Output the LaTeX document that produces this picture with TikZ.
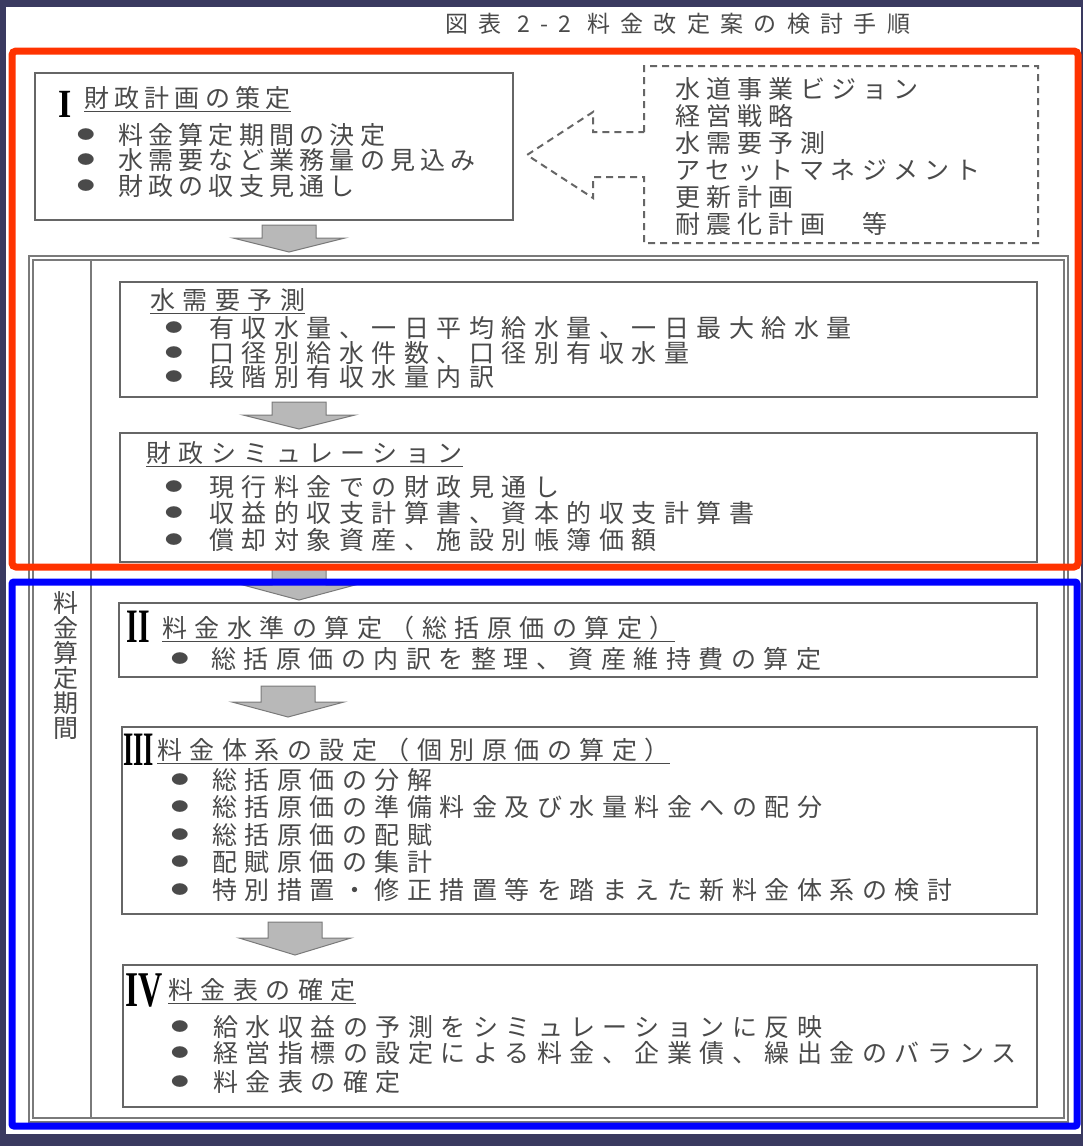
\documentclass[tikz,border=0pt]{standalone}
\usepackage{fontspec}
\usepackage{graphicx}
\usetikzlibrary{fit}
\newfontfamily\jpw[LetterSpace=30]{Noto Sans CJK JP}
\newfontfamily\jpm[LetterSpace=21]{Noto Sans CJK JP}
\newfontfamily\jpd[LetterSpace=25]{Noto Sans CJK JP}
\newfontfamily\jph[LetterSpace=45]{Noto Sans CJK JP}
\newfontfamily\jpp{Noto Sans CJK JP}
\newfontfamily\romfont{Liberation Serif}
\definecolor{navyc}{HTML}{3A3A60}
\definecolor{redf}{HTML}{FF3300}
\definecolor{txtc}{HTML}{4A4A4A}
\definecolor{edgec}{HTML}{666666}
\definecolor{framec}{HTML}{7A7A7A}
\definecolor{arrfill}{HTML}{B8B8B8}
\definecolor{arredge}{HTML}{7A7A7A}
\newcommand\rnum[3]{\scalebox{#1}[1]{\fontsize{#2}{#2}\romfont\bfseries #3}}
\newcommand\fatarr[4]{\draw[fat] ({#1-27},#2) -- ({#1+27},#2) -- ({#1+27},#3) -- ({#1+56},#3) -- (#1,#4) -- ({#1-56},#3) -- ({#1-27},#3) -- cycle;}
\begin{document}
\begin{tikzpicture}[x=1pt,y=-1pt,
  box/.style={draw=edgec,line width=2.2pt,inner sep=0pt},
  frm/.style={draw=framec,line width=1.3pt},
  tl/.style={anchor=west,inner sep=0pt,text=txtc,text height=20pt,text depth=1pt,font=\fontsize{25}{25}\jpw},
  tlm/.style={tl,font=\fontsize{25}{25}\jpm},
  tld/.style={tl,font=\fontsize{25}{25}\jpd},
  bul/.style={inner sep=0pt,text=txtc,font=\fontsize{13}{13}\jpp},
  ul/.style={draw=txtc,line width=1.1pt},
  num/.style={inner sep=0pt,text=black},
  fat/.style={fill=arrfill,draw=arredge,line width=1pt},
  dsh/.style={draw=edgec,line width=2pt,dash pattern=on 7pt off 5pt}
]
\useasboundingbox (0,0) rectangle (1083,1146);
\fill[navyc] (0,0) rectangle (1083,1146);
\fill[white] (6,7) rectangle (1081,1134);

% header
\node[inner sep=0pt,text=txtc,font=\fontsize{23}{23}\jph] (ttl) at (678,24) {図表 2-2 料金改定案の検討手順};

% Box I
\node[box,fit={(35,73) (513,220)}] (b1) {};
\node[num] (n1) at (65,104) {\rnum{0.85}{40}{I}};
\node[tlm] (t1) at (84,98) {財政計画の策定};
\draw[ul] ([yshift=-4pt]t1.base west) -- ([yshift=-4pt]t1.base east);
\node[bul] (b1a) at (86,135) {\scalebox{1.35}[1]{●}};
\node[bul] (b1b) at (86,160) {\scalebox{1.35}[1]{●}};
\node[bul] (b1c) at (86,186) {\scalebox{1.35}[1]{●}};
\node[tlm] (l1a) at (118,135) {料金算定期間の決定};
\node[tlm] (l1b) at (118,160) {水需要など業務量の見込み};
\node[tlm] (l1c) at (118,186) {財政の収支見通し};

% dashed source box with arrow
\node[fit={(644,66) (1038,243)},inner sep=0pt] (src) {};
\draw[dsh] (644,132) -- (644,66) -- (1038,66) -- (1038,243) -- (644,243) -- (644,177)
  -- (593,177) -- (593,198) -- (527,155) -- (593,112) -- (593,132) -- cycle;
\node[tld] (s1) at (675,89) {水道事業ビジョン};
\node[tld] (s2) at (675,116) {経営戦略};
\node[tld] (s3) at (675,143) {水需要予測};
\node[tld] (s4) at (675,170) {アセットマネジメント};
\node[tld] (s5) at (675,197) {更新計画};
\node[tld] (s6) at (675,224) {耐震化計画　等};

% period frame
\node[frm,fit={(29,256) (1068,1122)},inner sep=0pt] (pfo) {};
\node[frm,fit={(33,260) (1064,1118)},inner sep=0pt] (pfi) {};
\draw[frm] (91,260) -- (91,1118);
\node[inner sep=0pt,text=txtc,font=\fontsize{25}{25}\jpp,align=center] (per) at (66,666) {料\\金\\算\\定\\期\\間};

% Box water demand
\node[box,fit={(120,282) (1037,397)}] (bw) {};
\node[tl] (tw) at (150,300) {水需要予測};
\draw[ul] ([yshift=-4pt]tw.base west) -- ([yshift=-4pt]tw.base east);
\node[bul] at (174,328) {\scalebox{1.35}[1]{●}};
\node[bul] at (174,353) {\scalebox{1.35}[1]{●}};
\node[bul] at (174,377) {\scalebox{1.35}[1]{●}};
\node[tl] (lwa) at (209,328) {有収水量、一日平均給水量、一日最大給水量};
\node[tl] (lwb) at (209,353) {口径別給水件数、口径別有収水量};
\node[tl] (lwc) at (209,377) {段階別有収水量内訳};

% Box finance simulation
\node[box,fit={(120,433) (1037,562)}] (bf) {};
\node[tl] (tf) at (146,453) {財政シミュレーション};
\draw[ul] ([yshift=-4pt]tf.base west) -- ([yshift=-4pt]tf.base east);
\node[bul] at (174,487) {\scalebox{1.35}[1]{●}};
\node[bul] at (174,513) {\scalebox{1.35}[1]{●}};
\node[bul] at (174,540) {\scalebox{1.35}[1]{●}};
\node[tl] (lfa) at (209,487) {現行料金での財政見通し};
\node[tl] (lfb) at (209,513) {収益的収支計算書、資本的収支計算書};
\node[tl] (lfc) at (209,540) {償却対象資産、施設別帳簿価額};

% Box II
\node[box,fit={(119,603) (1037,677)}] (b2) {};
\node[num] (n2) at (138.5,627) {\rnum{0.62}{48}{II}};
\node[tl] (t2) at (162,628) {料金水準の算定（総括原価の算定）};
\draw[ul] ([yshift=-4pt]t2.base west) -- ([yshift=-4pt]t2.base east);
\node[bul] at (180,659) {\scalebox{1.35}[1]{●}};
\node[tl] (l2a) at (211,659) {総括原価の内訳を整理、資産維持費の算定};

% Box III
\node[box,fit={(122,727) (1037,914)}] (b3) {};
\node[num] (n3) at (138.5,750) {\rnum{0.55}{48}{III}};
\node[tl] (t3) at (157,750) {料金体系の設定（個別原価の算定）};
\draw[ul] ([yshift=-4pt]t3.base west) -- ([yshift=-4pt]t3.base east);
\foreach \yy in {780,807,835,862,890} {\node[bul] at (180,\yy) {\scalebox{1.35}[1]{●}};}
\node[tl] (l3a) at (212,780) {総括原価の分解};
\node[tl] (l3b) at (212,807) {総括原価の準備料金及び水量料金への配分};
\node[tl] (l3c) at (212,835) {総括原価の配賦};
\node[tl] (l3d) at (212,862) {配賦原価の集計};
\node[tl] (l3e) at (212,890) {特別措置・修正措置等を踏まえた新料金体系の検討};

% Box IV
\node[box,fit={(123,965) (1037,1107)}] (b4) {};
\node[num] (n4) at (144.5,990) {\rnum{0.67}{50}{IV}};
\node[tl] (t4) at (168,990) {料金表の確定};
\draw[ul] ([yshift=-4pt]t4.base west) -- ([yshift=-4pt]t4.base east);
\foreach \yy in {1027,1053,1082} {\node[bul] at (180,\yy) {\scalebox{1.35}[1]{●}};}
\node[tl] (l4a) at (213,1027) {給水収益の予測をシミュレーションに反映};
\node[tl] (l4b) at (213,1053) {経営指標の設定による料金、企業債、繰出金のバランス};
\node[tl] (l4c) at (213,1082) {料金表の確定};

% block arrows
\fatarr{289}{225}{238}{252}
\fatarr{299}{402}{415}{429}
\fatarr{299}{565}{585}{600}
\fatarr{288}{686}{702}{717}
\fatarr{295}{922}{938}{955}

% highlight frames
\draw[redf,line width=7pt,rounded corners=4pt] (12,51) rectangle (1078,567);
\draw[blue,line width=7pt,rounded corners=2pt] (12,582) rectangle (1077,1126);
\end{tikzpicture}
\end{document}
